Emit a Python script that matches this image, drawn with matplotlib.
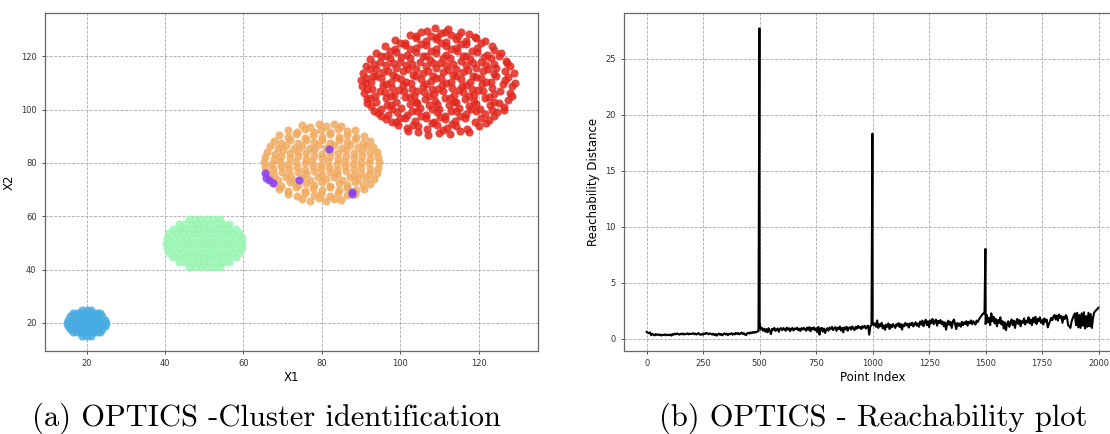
import matplotlib.pyplot as plt
import numpy as np

# cluster points (x1, x2)
red_pts = [
    (104.5, 91.8), (107.2, 90.6), (109.8, 91.4), (112.6, 90.9), (115.3, 92.0),
    (99.5, 94.2), (101.8, 93.0), (104.6, 93.9), (106.9, 92.8), (109.5, 94.4), (112.0, 93.2), (114.3, 94.0), (117.1, 92.9), (120.2, 93.8),
    (96.4, 96.5), (98.9, 95.4), (101.2, 96.9), (103.8, 95.6), (106.5, 96.8), (108.7, 95.3), (111.4, 96.6), (113.9, 95.8), (116.5, 97.0), (119.0, 95.5), (122.6, 96.3),
    (94.3, 98.9), (96.8, 97.9), (99.1, 99.3), (101.7, 98.1), (104.2, 99.5), (106.6, 98.0), (109.3, 99.0), (111.5, 97.8), (114.2, 99.4), (116.8, 98.2), (119.3, 99.6), (121.7, 98.4), (124.8, 99.0),
    (92.5, 101.4), (95.0, 100.3), (97.6, 101.8), (100.1, 100.6), (102.4, 102.0), (105.0, 100.5), (107.4, 101.6), (110.0, 100.2), (112.5, 101.9), (115.1, 100.7), (117.6, 101.5), (120.3, 100.4), (122.8, 101.8), (126.4, 100.9),
    (91.4, 103.9), (93.9, 102.8), (96.3, 104.3), (98.9, 103.0), (101.3, 104.6), (103.9, 102.9), (106.2, 104.1), (108.8, 103.2), (111.3, 104.5), (113.7, 102.7), (116.4, 104.0), (118.8, 103.3), (121.5, 104.4), (124.0, 102.9), (127.6, 103.8),
    (90.8, 106.3), (93.5, 105.2), (96.0, 106.8), (98.4, 105.6), (101.0, 106.9), (103.5, 105.3), (106.1, 106.5), (108.6, 105.7), (111.0, 107.0), (113.6, 105.4), (116.1, 106.6), (118.7, 105.5), (121.2, 106.9), (123.8, 105.8), (127.9, 106.4),
    (90.3, 108.9), (92.9, 107.7), (95.5, 109.2), (97.9, 108.0), (100.6, 109.4), (103.0, 107.9), (105.7, 108.8), (108.1, 107.6), (110.6, 109.3), (113.2, 108.1), (115.7, 109.0), (118.2, 107.8), (120.9, 109.5), (123.5, 108.2), (128.5, 108.7),
    (90.0, 111.3), (92.6, 110.2), (95.1, 111.8), (97.6, 110.5), (100.2, 111.6), (102.7, 110.1), (105.3, 111.4), (107.8, 110.6), (110.3, 111.9), (112.9, 110.3), (115.4, 111.5), (117.9, 110.4), (120.5, 111.7), (123.1, 110.5), (126.8, 111.2),
    (90.4, 113.8), (93.0, 112.7), (95.6, 114.2), (98.1, 113.0), (100.7, 114.4), (103.2, 112.9), (105.8, 113.8), (108.4, 112.6), (110.9, 114.3), (113.5, 113.1), (116.0, 114.0), (118.6, 112.8), (121.2, 114.5), (123.8, 113.2), (128.9, 113.7),
    (91.2, 116.4), (93.8, 115.2), (96.3, 116.8), (98.8, 115.5), (101.4, 116.7), (103.9, 115.3), (106.5, 116.5), (109.0, 115.6), (111.6, 116.9), (114.1, 115.4), (116.7, 116.6), (119.2, 115.7), (121.8, 116.8), (124.5, 115.5), (128.0, 116.3),
    (92.3, 118.9), (94.9, 117.7), (97.5, 119.2), (100.0, 118.0), (102.6, 119.4), (105.1, 117.9), (107.7, 118.8), (110.2, 117.6), (112.8, 119.3), (115.4, 118.1), (117.9, 119.0), (120.5, 117.8), (123.2, 119.4), (126.9, 118.4),
    (93.8, 121.4), (96.4, 120.2), (99.0, 121.8), (101.6, 120.5), (104.1, 121.6), (106.7, 120.1), (109.2, 121.4), (111.8, 120.6), (114.4, 121.9), (116.9, 120.3), (119.5, 121.5), (122.1, 120.4), (125.6, 121.2),
    (96.0, 123.9), (98.7, 122.8), (101.3, 124.3), (103.9, 123.0), (106.5, 124.4), (109.1, 122.9), (111.7, 123.8), (114.3, 123.2), (116.9, 124.5), (119.5, 123.1), (123.4, 123.8),
    (98.6, 126.3), (101.2, 125.2), (103.9, 126.8), (106.5, 125.6), (109.1, 126.6), (111.7, 125.3), (114.3, 126.5), (116.9, 125.7), (119.4, 126.9), (121.6, 125.8),
    (102.5, 128.2), (105.2, 129.0), (107.8, 127.8), (110.4, 128.9), (113.0, 128.0), (115.4, 129.3), (117.6, 128.4),
    (108.9, 130.5), (112.3, 130.2),
    # points lying between the rows above
    (102.0, 92.0), (110.9, 92.5), (117.5, 91.8),
    (98.0, 95.2), (103.3, 94.4), (108.2, 95.0), (113.1, 94.6), (121.8, 95.1),
    (95.2, 97.6), (100.0, 96.9), (105.4, 97.5), (110.2, 97.1), (115.3, 97.8), (120.6, 97.0), (124.0, 97.6),
    (93.2, 99.6), (98.0, 100.3), (103.0, 99.4), (108.0, 100.1), (113.0, 99.5), (118.1, 100.2), (123.5, 99.7), (126.5, 100.0),
    (91.5, 102.6), (96.5, 101.9), (104.3, 102.5), (109.4, 102.0), (114.3, 102.8), (119.2, 102.1), (125.1, 102.6),
    (92.2, 104.5), (97.7, 105.2), (102.5, 104.6), (107.4, 105.1), (112.6, 104.4), (117.5, 105.0), (122.7, 104.7), (128.4, 105.2),
    (91.6, 107.6), (94.8, 107.0), (99.7, 107.5), (104.4, 107.1), (109.6, 107.8), (114.9, 107.2), (119.9, 107.5), (125.4, 107.0),
    (91.2, 110.1), (96.3, 109.6), (101.4, 110.2), (106.6, 109.5), (111.8, 110.0), (116.8, 109.4), (122.0, 110.3), (126.1, 109.7), (129.4, 110.0),
    (91.3, 112.0), (93.9, 112.6), (99.0, 112.1), (104.1, 112.7), (109.2, 112.0), (114.2, 112.5), (119.4, 112.1), (124.4, 112.8), (127.5, 112.2),
    (92.2, 115.1), (97.0, 114.6), (102.0, 115.2), (107.1, 114.5), (112.2, 115.0), (117.3, 114.7), (122.5, 115.3), (126.7, 114.6),
    (93.3, 117.0), (98.2, 117.6), (103.1, 117.1), (108.3, 117.5), (113.4, 117.0), (118.6, 117.6), (124.0, 117.2), (127.3, 117.5),
    (95.1, 120.1), (100.3, 119.6), (105.7, 120.2), (110.8, 119.5), (116.0, 120.0), (121.3, 119.7), (125.2, 120.3),
    (97.5, 122.0), (102.6, 122.6), (107.9, 122.1), (113.0, 122.7), (118.3, 122.0), (123.8, 122.5),
    (100.0, 125.1), (105.3, 124.6), (110.4, 125.0), (115.6, 124.5), (120.7, 125.2),
    (104.0, 127.5), (109.3, 127.1), (114.7, 127.6), (119.0, 127.2),
    (106.8, 129.6), (111.5, 129.3),
]

orange_pts = [
    (75.0, 66.4), (77.1, 65.6), (79.2, 66.8), (81.0, 65.9), (83.1, 66.5), (85.0, 66.0),
    (71.4, 68.3), (73.6, 67.5), (75.7, 68.7), (77.9, 67.8), (79.8, 68.5), (82.0, 67.6), (84.1, 68.8), (86.3, 67.9), (88.5, 68.4),
    (69.2, 70.4), (71.3, 69.6), (73.5, 70.8), (75.6, 69.5), (77.8, 70.6), (80.0, 69.8), (82.1, 70.9), (84.3, 69.7), (86.4, 70.5), (88.6, 69.9), (90.7, 70.3),
    (67.7, 72.3), (69.7, 71.5), (71.8, 72.7), (73.9, 71.6), (76.0, 72.5), (78.0, 71.8), (80.1, 72.8), (82.2, 71.4), (84.3, 72.6), (86.3, 71.7), (88.4, 72.9), (90.4, 71.6), (92.3, 72.2),
    (66.8, 74.4), (68.8, 73.5), (70.9, 74.8), (72.9, 73.7), (74.9, 74.5), (77.0, 73.6), (79.0, 74.7), (81.1, 73.8), (83.1, 74.6), (85.2, 73.5), (87.2, 74.8), (89.2, 73.9), (91.3, 74.5), (93.2, 74.0),
    (65.9, 76.3), (67.9, 75.5), (69.9, 76.7), (71.9, 75.6), (73.9, 76.5), (75.9, 75.8), (78.0, 76.8), (80.0, 75.4), (82.0, 76.6), (84.0, 75.7), (86.1, 76.9), (88.1, 75.6), (90.1, 76.4), (92.1, 75.8), (94.1, 76.2),
    (65.5, 78.4), (67.6, 77.6), (69.6, 78.8), (71.7, 77.7), (73.7, 78.5), (75.8, 77.5), (77.8, 78.7), (79.9, 77.8), (81.9, 78.6), (84.0, 77.4), (86.0, 78.8), (88.1, 77.7), (90.1, 78.5), (92.2, 77.6), (94.4, 78.2),
    (65.3, 80.3), (67.4, 79.5), (69.4, 80.7), (71.5, 79.6), (73.5, 80.5), (75.6, 79.8), (77.6, 80.8), (79.7, 79.4), (81.7, 80.6), (83.8, 79.7), (85.8, 80.9), (87.9, 79.5), (89.9, 80.4), (92.0, 79.8), (94.6, 80.2),
    (65.6, 82.4), (67.7, 81.6), (69.7, 82.8), (71.8, 81.7), (73.8, 82.5), (75.9, 81.5), (77.9, 82.7), (80.0, 81.8), (82.0, 82.6), (84.1, 81.4), (86.1, 82.8), (88.2, 81.7), (90.2, 82.5), (92.3, 81.6), (94.3, 82.2),
    (66.0, 84.3), (68.0, 83.5), (70.0, 84.7), (72.0, 83.6), (74.0, 84.5), (76.0, 83.8), (78.1, 84.8), (80.1, 83.4), (82.1, 84.6), (84.1, 83.7), (86.2, 84.9), (88.2, 83.6), (90.2, 84.4), (92.2, 83.8), (94.0, 84.2),
    (66.8, 86.4), (68.8, 85.5), (70.9, 86.8), (72.9, 85.7), (74.9, 86.5), (77.0, 85.6), (79.0, 86.7), (81.1, 85.8), (83.1, 86.6), (85.2, 85.5), (87.2, 86.8), (89.2, 85.9), (91.3, 86.5), (93.1, 86.0),
    (67.7, 88.3), (69.7, 87.5), (71.8, 88.7), (73.9, 87.6), (76.0, 88.5), (78.0, 87.8), (80.1, 88.8), (82.2, 87.4), (84.3, 88.6), (86.3, 87.7), (88.4, 88.9), (90.4, 87.6), (92.3, 88.2),
    (69.2, 90.4), (71.3, 89.6), (73.5, 90.8), (75.6, 89.5), (77.8, 90.6), (80.0, 89.8), (82.1, 90.9), (84.3, 89.7), (86.4, 90.5), (88.6, 89.9), (90.7, 90.3),
    (71.4, 92.3), (73.6, 91.5), (75.7, 92.7), (77.9, 91.8), (79.8, 92.5), (82.0, 91.6), (84.1, 92.8), (86.3, 91.9), (88.5, 92.4),
    (75.0, 94.4), (77.1, 93.6), (79.2, 94.8), (81.0, 93.9), (83.1, 94.5), (85.0, 94.0),
]

# green and blue blobs are solid, kept as rows (x2 level, x1 positions)
green_rows = [
    (41.0, [46.0, 47.7, 49.3, 50.8, 52.4, 54.0]),
    (42.8, [43.5, 45.2, 46.8, 48.4, 50.0, 51.6, 53.2, 54.8, 56.4]),
    (44.6, [42.0, 43.6, 45.2, 46.8, 48.4, 50.0, 51.6, 53.2, 54.8, 56.4, 58.0]),
    (46.4, [41.1, 42.8, 44.4, 46.0, 47.7, 49.3, 50.9, 52.5, 54.2, 55.8, 57.4, 59.0]),
    (48.2, [40.5, 42.1, 43.7, 45.3, 46.9, 48.5, 50.1, 51.7, 53.3, 54.9, 56.5, 58.1, 59.6]),
    (50.0, [40.3, 41.9, 43.5, 45.1, 46.7, 48.3, 49.9, 51.5, 53.1, 54.7, 56.3, 57.9, 59.7]),
    (51.8, [40.6, 42.2, 43.8, 45.4, 47.0, 48.6, 50.2, 51.8, 53.4, 55.0, 56.6, 58.2, 59.6]),
    (53.6, [41.1, 42.8, 44.4, 46.0, 47.7, 49.3, 50.9, 52.5, 54.2, 55.8, 57.4, 59.0]),
    (55.4, [42.0, 43.6, 45.2, 46.8, 48.4, 50.0, 51.6, 53.2, 54.8, 56.4, 58.0]),
    (57.2, [43.5, 45.2, 46.8, 48.4, 50.0, 51.6, 53.2, 54.8, 56.4]),
    (59.0, [46.0, 47.7, 49.3, 50.8, 52.4, 54.0]),
]

blue_rows = [
    (15.2, [18.8, 20.0, 21.2]),
    (16.4, [16.6, 17.6, 18.6, 19.6, 20.6, 21.6, 22.6, 23.4]),
    (17.6, [15.8, 16.8, 17.8, 18.8, 19.8, 20.8, 21.8, 22.8, 24.0]),
    (18.8, [15.3, 16.3, 17.3, 18.3, 19.3, 20.3, 21.3, 22.3, 23.3, 24.6]),
    (20.0, [15.1, 16.1, 17.1, 18.1, 19.1, 20.1, 21.1, 22.1, 23.1, 24.1, 25.0]),
    (21.2, [15.3, 16.3, 17.3, 18.3, 19.3, 20.3, 21.3, 22.3, 23.3, 24.6]),
    (22.4, [15.8, 16.8, 17.8, 18.8, 19.8, 20.8, 21.8, 22.8, 24.0]),
    (23.6, [16.6, 17.6, 18.6, 19.6, 20.6, 21.6, 22.6, 23.4]),
    (24.8, [18.8, 20.0, 21.2]),
]

noise_pts = [(81.8, 85.3), (65.4, 76.1), (65.8, 74.4), (66.6, 73.6), (67.6, 72.3),
             (74.2, 73.6), (87.8, 69.1), (87.8, 68.2)]

# reachability distance, one value every 5th point index
reach = [
    0.60, 0.52, 0.48, 0.55, 0.30, 0.42, 0.35, 0.28, 0.40, 0.33, 0.38, 0.30, 0.36, 0.27, 0.34, 0.31, 0.38, 0.29, 0.35, 0.32,
    0.30, 0.37, 0.26, 0.41, 0.35, 0.44, 0.38, 0.46, 0.40, 0.35, 0.43, 0.38, 0.45, 0.36, 0.42, 0.39, 0.47, 0.37, 0.44, 0.40,
    0.42, 0.48, 0.39, 0.45, 0.36, 0.43, 0.49, 0.37, 0.33, 0.41, 0.35, 0.46, 0.40, 0.51, 0.44, 0.38, 0.47, 0.42, 0.36, 0.44,
    0.30, 0.41, 0.26, 0.38, 0.45, 0.33, 0.42, 0.29, 0.40, 0.47, 0.36, 0.44, 0.31, 0.43, 0.39, 0.48, 0.35, 0.45, 0.37, 0.50,
    0.42, 0.49, 0.38, 0.46, 0.53, 0.41, 0.48, 0.36, 0.31, 0.47, 0.52, 0.44, 0.55, 0.49, 0.58, 0.51, 0.60, 0.56, 0.63, 0.66,
    1.45, 0.80, 0.95, 0.70, 0.88, 0.62, 0.85, 0.55, 0.92, 0.74, 0.40, 0.86, 0.78, 0.95, 0.68, 0.82, 0.90, 0.60, 0.88, 0.93,
    0.75, 0.94, 0.85, 0.70, 0.98, 0.80, 0.92, 0.66, 0.87, 0.95, 0.72, 0.90, 0.84, 0.97, 0.76, 0.89, 0.68, 0.93, 0.81, 0.96,
    0.85, 0.70, 0.98, 0.78, 1.02, 0.65, 0.95, 0.82, 1.00, 0.74, 0.92, 0.58, 1.04, 0.35, 0.88, 0.96, 0.62, 0.90, 0.50, 0.80,
    0.93, 0.70, 0.98, 0.86, 1.05, 0.76, 0.92, 1.02, 0.68, 0.97, 0.84, 1.08, 0.72, 0.95, 0.55, 1.00, 0.82, 1.06, 0.70, 0.94,
    1.02, 0.80, 1.08, 0.92, 0.75, 1.05, 0.88, 1.12, 0.96, 1.04, 0.85, 1.10, 0.98, 1.14, 0.90, 1.07, 1.15, 0.35, 1.10, 1.18,
    1.50, 1.20, 1.35, 1.05, 1.62, 0.95, 1.28, 1.10, 1.40, 0.90, 1.18, 0.78, 1.25, 1.05, 1.35, 0.85, 1.22, 1.00, 1.30, 1.12,
    0.95, 1.28, 1.15, 1.38, 1.02, 1.30, 0.80, 1.25, 1.10, 1.40, 1.18, 1.32, 0.98, 1.36, 1.20, 1.42, 1.08, 1.30, 1.45, 1.15,
    1.35, 1.05, 1.52, 1.25, 1.60, 1.10, 1.45, 1.68, 1.20, 1.55, 1.02, 1.62, 1.38, 1.75, 1.28, 1.50, 1.70, 1.15, 1.58, 1.40,
    1.65, 1.30, 1.52, 1.10, 1.45, 0.80, 1.38, 1.60, 1.22, 1.48, 0.95, 1.55, 1.70, 1.25, 0.85, 1.40, 1.15, 1.35, 1.05, 1.50,
    1.20, 1.45, 1.30, 1.55, 1.15, 1.50, 1.35, 1.62, 1.28, 1.55, 1.42, 1.25, 1.60, 1.48, 1.70, 1.85, 2.00, 2.15, 2.25, 2.20,
    1.30, 2.10, 1.45, 1.85, 1.20, 2.25, 1.55, 1.95, 1.35, 1.75, 1.10, 1.65, 1.40, 1.90, 1.25, 1.55, 0.90, 1.45, 0.75, 1.30,
    1.55, 1.05, 1.45, 1.70, 1.20, 1.60, 0.95, 1.50, 1.75, 1.30, 1.65, 1.10, 1.55, 1.40, 1.80, 1.25, 1.60, 1.45, 1.90, 1.35,
    1.70, 1.20, 1.85, 1.45, 1.95, 1.30, 1.75, 1.55, 1.90, 1.40, 1.65, 1.25, 1.80, 1.50, 1.70, 1.00, 1.30, 1.55, 1.85, 1.65,
    1.95, 2.10, 1.70, 2.05, 1.60, 2.15, 1.85, 2.00, 1.40, 1.95, 1.75, 2.10, 1.90, 1.20, 1.10, 0.95, 1.50, 1.80, 2.05, 2.25,
    1.20, 2.30, 1.00, 2.10, 0.95, 2.25, 1.15, 2.35, 0.90, 2.00, 1.05, 2.30, 1.10, 2.20, 0.95, 1.80, 2.30, 2.45, 2.55, 2.65,
]
reach_last = 2.75          # point 1999
spike_idx = [499, 999, 1499]
spike_val = [27.7, 18.3, 8.0]


def rows_to_xy(rows):
    xs = [x for y, row in rows for x in row]
    ys = [y for y, row in rows for x in row]
    return xs, ys


fig = plt.figure(figsize=(11.1, 4.34), dpi=100)
ax1 = fig.add_axes([0.0405, 0.1912, 0.4441, 0.7788])
ax2 = fig.add_axes([0.5622, 0.1912, 0.4477, 0.7788])

gx, gy = rows_to_xy(green_rows)
bx, by = rows_to_xy(blue_rows)
kw = dict(s=34, alpha=0.85, linewidths=0)
ax1.scatter(bx, by, color='#48ace2', **kw)
ax1.scatter(gx, gy, color='#98f5b2', **kw)
ax1.scatter(*zip(*orange_pts), color='#f0ab60', **kw)
ax1.scatter(*zip(*red_pts), color='#e2281e', **kw)
ax1.scatter(*zip(*noise_pts), color='#8a3ff5', **kw)
ax1.set_xlabel('X1', fontsize=8.5, labelpad=2)
ax1.set_ylabel('X2', fontsize=8.5, labelpad=4)

idx = list(range(0, 2000, 5)) + [1999] + spike_idx
val = reach + [reach_last] + spike_val
order = np.argsort(idx)
ax2.plot(np.array(idx)[order], np.array(val)[order], color='black', lw=1.5)
ax2.set_xlabel('Point Index', fontsize=8.5, labelpad=2)
ax2.set_ylabel('Reachability Distance', fontsize=8.5, labelpad=4)
ax2.set_xticks([0, 250, 500, 750, 1000, 1250, 1500, 1750, 2000])

for ax in (ax1, ax2):
    ax.grid(True, linestyle='--', color='#aaaaaa', lw=0.6)
    ax.set_axisbelow(True)
    ax.tick_params(labelsize=6, length=2.5, width=0.6, colors='#333333')
    for sp in ax.spines.values():
        sp.set_color('#666666')
        sp.set_linewidth(0.9)

fig.text(0.24, 0.037, '(a) OPTICS -Cluster identification', ha='center', va='center',
         family='cmr10', fontsize=22)
fig.text(0.787, 0.037, '(b) OPTICS - Reachability plot', ha='center', va='center',
         family='cmr10', fontsize=22)

fig.savefig('out.png', dpi=100)
